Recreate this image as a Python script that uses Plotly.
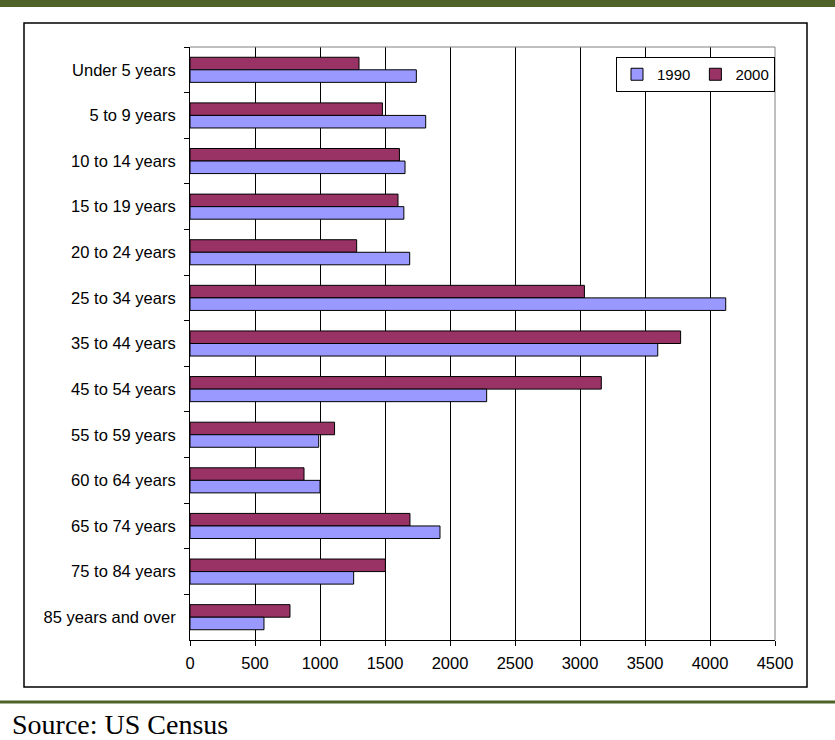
import plotly.graph_objects as go

categories = ["Under 5 years", "5 to 9 years", "10 to 14 years", "15 to 19 years",
              "20 to 24 years", "25 to 34 years", "35 to 44 years", "45 to 54 years",
              "55 to 59 years", "60 to 64 years", "65 to 74 years", "75 to 84 years",
              "85 years and over"]
values_1990 = [1741, 1813, 1654, 1645, 1690, 4121, 3598, 2282, 990, 1000, 1923, 1259, 569]
values_2000 = [1300, 1480, 1611, 1600, 1282, 3034, 3774, 3164, 1112, 877, 1692, 1503, 769]
x_ticks = [0, 500, 1000, 1500, 2000, 2500, 3000, 3500, 4000, 4500]

W, H = 835, 740
L, R, T, B = 190, 775, 47, 640


def px_x(x):
    return (x - L) / (R - L)


def px_y(y):
    return (B - y) / (B - T)


fig = go.Figure()
fig.add_trace(go.Bar(
    y=categories, x=values_2000, name="2000", orientation="h",
    marker=dict(color="#993366", line=dict(color="#000000", width=1)),
    legendrank=2,
))
fig.add_trace(go.Bar(
    y=categories, x=values_1990, name="1990", orientation="h",
    marker=dict(color="#9999FF", line=dict(color="#000000", width=1)),
    legendrank=1,
))

axis_font = dict(family="Liberation Sans, Arial, sans-serif", size=16.5, color="#000000")

fig.update_layout(
    width=W, height=H,
    margin=dict(l=L, r=W - R, t=T, b=H - B, pad=0),
    paper_bgcolor="#FFFFFF", plot_bgcolor="#FFFFFF",
    barmode="group", bargap=0.45, bargroupgap=0,
    showlegend=True,
    legend=dict(
        orientation="h", x=1, xanchor="right", y=px_y(57), yanchor="top",
        bgcolor="#FFFFFF", bordercolor="#000000", borderwidth=1,
        font=dict(family="Liberation Sans, Arial, sans-serif", size=15, color="#000000"),
        itemwidth=30, traceorder="normal", tracegroupgap=0,
    ),
    xaxis=dict(
        range=[0, 4500], tickvals=x_ticks, ticktext=[str(v) for v in x_ticks],
        showgrid=True, gridcolor="#000000", gridwidth=1,
        zeroline=False, showline=True, linecolor="#000000", linewidth=1,
        ticks="outside", ticklen=5, tickcolor="#000000", tickfont=axis_font,
        ticklabelstandoff=3,
    ),
    yaxis=dict(
        type="category", categoryorder="array", categoryarray=categories,
        autorange="reversed",
        showgrid=False, zeroline=False, showline=True, linecolor="#000000", linewidth=1,
        ticks="outside", ticklen=5, tickcolor="#000000", tickson="boundaries",
        tickfont=axis_font, ticklabelstandoff=10,
    ),
    shapes=[
        # plot area border (gray top/right)
        dict(type="line", xref="paper", yref="paper", x0=0, x1=1, y0=1, y1=1,
             line=dict(color="#808080", width=1), layer="above"),
        dict(type="line", xref="paper", yref="paper", x0=1, x1=1, y0=0, y1=1,
             line=dict(color="#808080", width=1), layer="above"),
        # chart frame
        dict(type="rect", xref="paper", yref="paper",
             x0=px_x(24), x1=px_x(807), y0=px_y(687), y1=px_y(23),
             line=dict(color="#000000", width=1.5)),
        # top green band
        dict(type="rect", xref="paper", yref="paper",
             x0=px_x(0), x1=px_x(835), y0=px_y(7), y1=px_y(0),
             line=dict(width=0), fillcolor="#4F6228"),
        # bottom green line
        dict(type="rect", xref="paper", yref="paper",
             x0=px_x(0), x1=px_x(835), y0=px_y(703.5), y1=px_y(700.5),
             line=dict(width=0), fillcolor="#4F6228"),
    ],
    annotations=[
        dict(text="Source: US Census", xref="paper", yref="paper",
             x=px_x(10), y=px_y(724), xanchor="left", yanchor="middle",
             showarrow=False,
             font=dict(family="Liberation Serif, Times New Roman, serif", size=28, color="#000000")),
    ],
)

fig.write_html(
    "out.html",
    config={"displayModeBar": False},
    post_script="document.body.style.margin='0';document.body.style.padding='0';"
                "document.documentElement.style.overflow='hidden';",
)
